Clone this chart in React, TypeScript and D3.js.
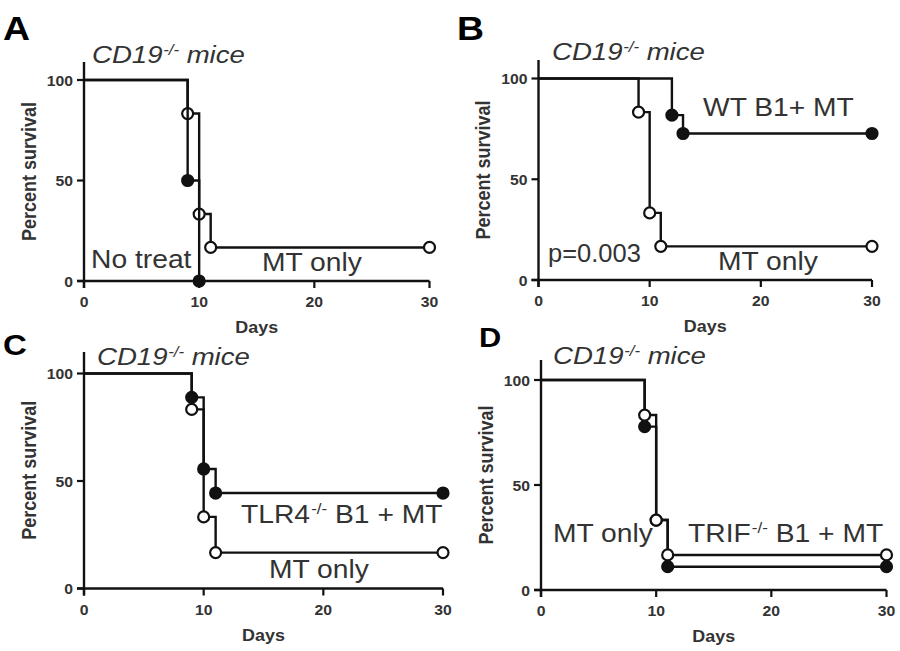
import React from 'react';
import * as d3 from 'd3';

// ---- data ----
const dayTicks = [0, 10, 20, 30];
const survivalTicks = [0, 50, 100];

const mtOnlyDays = [0, 9, 10, 11, 30];
const mtOnlySurvival = [100, 83.3, 33.3, 16.7, 16.7];
const noTreatDays = [0, 9, 10];
const noTreatSurvival = [100, 50, 0];
const wtB1Days = [0, 12, 13, 30];
const wtB1Survival = [100, 81.8, 72.7, 72.7];
const tlr4B1Days = [0, 9, 10, 11, 30];
const tlr4B1Survival = [100, 88.9, 55.6, 44.4, 44.4];
const trifB1Days = [0, 9, 10, 11, 30];
const trifB1Survival = [100, 77.8, 33.3, 11.1, 11.1];

const titleMain = 'CD19';
const titleSup = '-/-';
const titleTail = ' mice';
const xTitle = 'Days';
const yTitle = 'Percent survival';

type Series = { days: number[]; surv: number[]; filled: boolean };
type Label = { pre: string; sup?: string; post?: string; x: number; y: number; sx?: number };

const panels = [
  {
    letter: 'A', x0: 84, x1: 429.5, y0: 281, y1: 80, top: 62, lx: 3, ly: 40, ls: 34, tx: 92, ty: 63,
    series: [
      { days: mtOnlyDays, surv: mtOnlySurvival, filled: false },
      { days: noTreatDays, surv: noTreatSurvival, filled: true },
    ] as Series[],
    labels: [
      { pre: 'No treat', x: 91, y: 268 },
      { pre: 'MT only', x: 262, y: 271 },
    ] as Label[],
  },
  {
    letter: 'B', x0: 538.5, x1: 872, y0: 280, y1: 78.5, top: 60, lx: 457, ly: 40, ls: 34, tx: 552, ty: 60,
    series: [
      { days: mtOnlyDays, surv: mtOnlySurvival, filled: false },
      { days: wtB1Days, surv: wtB1Survival, filled: true },
    ] as Series[],
    labels: [
      { pre: 'WT B1+ MT', x: 703, y: 116 },
      { pre: 'MT only', x: 718, y: 270 },
      { pre: 'p=0.003', x: 548, y: 262, sx: 1.02 },
    ] as Label[],
  },
  {
    letter: 'C', x0: 84, x1: 443, y0: 588.5, y1: 373.5, top: 352, lx: 3, ly: 355, ls: 30, tx: 97, ty: 365,
    series: [
      { days: mtOnlyDays, surv: mtOnlySurvival, filled: false },
      { days: tlr4B1Days, surv: tlr4B1Survival, filled: true },
    ] as Series[],
    labels: [
      { pre: 'TLR4', sup: '-/-', post: ' B1 + MT', x: 241, y: 523 },
      { pre: 'MT only', x: 269, y: 578 },
    ] as Label[],
  },
  {
    letter: 'D', x0: 541, x1: 886.5, y0: 590, y1: 380, top: 360, lx: 479, ly: 347, ls: 28, tx: 553, ty: 364,
    series: [
      { days: trifB1Days, surv: trifB1Survival, filled: true },
      { days: mtOnlyDays, surv: mtOnlySurvival, filled: false },
    ] as Series[],
    labels: [
      { pre: 'MT only', x: 553, y: 542 },
      { pre: 'TRIF', sup: '-/-', post: ' B1 + MT', x: 688, y: 542 },
    ] as Label[],
  },
];

const FONT = '"Liberation Sans", Arial, Helvetica, sans-serif';
const INK = '#111';
const TXT = '#333';
const SX = 1.12;

function Panel({ p }: { p: (typeof panels)[number] }) {
  const x = d3.scaleLinear().domain([0, 30]).range([p.x0, p.x1]);
  const y = d3.scaleLinear().domain([0, 100]).range([p.y0, p.y1]);
  const line = d3
    .line<[number, number]>()
    .x((d) => x(d[0]))
    .y((d) => y(d[1]))
    .curve(d3.curveStepAfter);
  const midY = (p.top + p.y0) / 2;
  return (
    <g>
      {/* panel letter */}
      <text transform={`translate(${p.lx},${p.ly}) scale(1.1,1)`} fontFamily={FONT} fontWeight="bold" fontSize={p.ls} fill="#000">
        {p.letter}
      </text>
      {/* title */}
      <text transform={`translate(${p.tx},${p.ty}) scale(1.2,1)`} fontFamily={FONT} fontStyle="italic" fontSize={23} fill={TXT} style={{ whiteSpace: 'pre' }}>
        <tspan>{titleMain}</tspan>
        <tspan fontSize={14} dy={-8} dx={0.5}>{titleSup}</tspan>
        <tspan dy={8}>{titleTail}</tspan>
      </text>
      {/* axes */}
      <line x1={p.x0} x2={p.x0} y1={p.top} y2={p.y0 + 7} stroke={INK} strokeWidth={2.4} />
      <line x1={p.x0 - 7} x2={p.x1} y1={p.y0} y2={p.y0} stroke={INK} strokeWidth={2.4} />
      {survivalTicks.map((t) => (
        <g key={'y' + t}>
          <line x1={p.x0 - 7} x2={p.x0} y1={y(t)} y2={y(t)} stroke={INK} strokeWidth={2.2} />
          <text transform={`translate(${p.x0 - 11},${y(t) + 5.5}) scale(1.05,1)`} textAnchor="end" fontFamily={FONT} fontWeight="bold" fontSize={15} fill={TXT}>
            {t}
          </text>
        </g>
      ))}
      {dayTicks.map((t) => (
        <g key={'x' + t}>
          <line x1={x(t)} x2={x(t)} y1={p.y0} y2={p.y0 + 7} stroke={INK} strokeWidth={2.2} />
          <text transform={`translate(${x(t)},${p.y0 + 26}) scale(1.05,1)`} textAnchor="middle" fontFamily={FONT} fontWeight="bold" fontSize={15} fill={TXT}>
            {t}
          </text>
        </g>
      ))}
      <text transform={`translate(${(p.x0 + p.x1) / 2},${p.y0 + 52}) scale(${SX},1)`} textAnchor="middle" fontFamily={FONT} fontWeight="bold" fontSize={16} fill={TXT}>
        {xTitle}
      </text>
      <text transform={`translate(${p.x0 - 48.5},${midY}) scale(${SX},1) rotate(-90)`} textAnchor="middle" fontFamily={FONT} fontWeight="bold" fontSize={18} fill={TXT}>
        {yTitle}
      </text>
      {/* curves */}
      {p.series.map((s, i) => {
        const pts = s.days.map((d, j) => [d, s.surv[j]] as [number, number]);
        return (
          <g key={'s' + i}>
            <path d={line(pts) || ''} fill="none" stroke={INK} strokeWidth={2.4} />
            {pts.slice(1).map((d, j) => (
              <circle key={j} cx={x(d[0])} cy={y(d[1])} r={5.5} fill={s.filled ? INK : '#fff'} stroke={INK} strokeWidth={2.2} />
            ))}
          </g>
        );
      })}
      {/* annotations */}
      {p.labels.map((l, i) => (
        <text key={'l' + i} transform={`translate(${l.x},${l.y}) scale(${l.sx ?? 1.13},1)`} fontFamily={FONT} fontSize={25} fill={TXT} style={{ whiteSpace: 'pre' }}>
          <tspan>{l.pre}</tspan>
          {l.sup ? (
            <tspan fontSize={15} dy={-9} dx={1}>{l.sup}</tspan>
          ) : null}
          {l.post ? <tspan dy={l.sup ? 9 : 0}>{l.post}</tspan> : null}
        </text>
      ))}
    </g>
  );
}

export default function App() {
  return (
    <svg width={900} height={651} style={{ position: 'absolute', left: 0, top: 0, background: '#fff' }}>
      <rect width={900} height={651} fill="#fff" />
      {panels.map((p) => (
        <Panel key={p.letter} p={p} />
      ))}
    </svg>
  );
}
